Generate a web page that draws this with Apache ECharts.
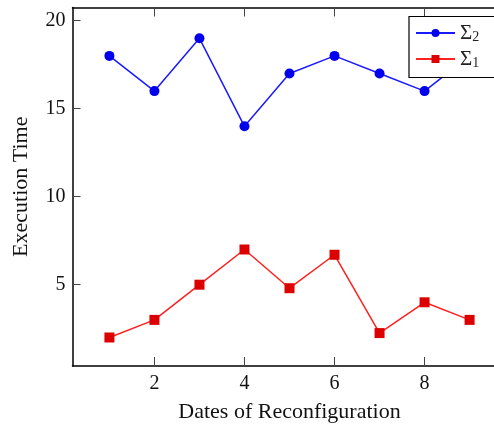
<!DOCTYPE html>
<html><head><meta charset="utf-8">
<script src="https://cdn.jsdelivr.net/npm/echarts@6/dist/echarts.min.js"></script>
<style>html,body{margin:0;padding:0;background:#fff}#c{width:494px;height:424px}</style>
</head><body><div id="c"></div>
<script>
const xValues = [1, 2, 3, 4, 5, 6, 7, 8, 9];
const sigma2 = [18, 16, 19, 14, 17, 18, 17, 16, 18];
const sigma1 = [2, 3, 5, 7, 4.8, 6.7, 2.25, 4, 3];
const xTicks = [2, 4, 6, 8];
const yTicks = [5, 10, 15, 20];
const xName = 'Dates of Reconfiguration';
const yName = 'Execution Time';

const font = 'Liberation Serif';
const chart = echarts.init(document.getElementById('c'), null, {renderer: 'canvas'});
const pair = (xs, ys) => xs.map((x, i) => [x, ys[i]]);
const axisLine = {show: true, lineStyle: {color: '#000', width: 1.5}};
const tick = (vals, len) => ({show: true, inside: true, length: len, customValues: vals, lineStyle: {color: '#444', width: 1}});
chart.setOption({
  animation: false,
  grid: {left: 72.5, top: 7.5, width: 434, bottom: 58, containLabel: false, outerBoundsMode: 'none'},
  legend: {
    left: 409, top: 16.5, orient: 'vertical', itemGap: 4,
    padding: [6, 30, 7, 6],
    borderColor: '#000', borderWidth: 1.2, backgroundColor: '#fff',
    itemWidth: 39, itemHeight: 10,
    data: ['s2', 's1'],
    formatter: n => n === 's2' ? '{a|Σ}{b|2}' : '{a|Σ}{b|1}',
    textStyle: {fontFamily: font, color: '#222', rich: {
      a: {fontFamily: font, fontSize: 21, lineHeight: 22, color: '#222'},
      b: {fontFamily: font, fontSize: 14, color: '#222', verticalAlign: 'bottom', padding: [9, 0, 0, 0]}
    }}
  },
  xAxis: [{
    type: 'value', min: 0.18, max: 9.82, position: 'bottom',
    name: xName, nameLocation: 'middle', nameGap: 35,
    nameTextStyle: {fontFamily: font, fontSize: 22, color: '#111'},
    axisLine, splitLine: {show: false}, axisTick: tick(xTicks, 9),
    axisLabel: {customValues: xTicks, fontFamily: font, fontSize: 20, color: '#111', margin: 8}
  }, {
    type: 'value', min: 0.18, max: 9.82, position: 'top',
    axisLine, splitLine: {show: false}, axisTick: tick(xTicks, 9), axisLabel: {show: false}
  }],
  yAxis: [{
    type: 'value', min: 0.38, max: 20.75, position: 'left',
    name: yName, nameLocation: 'middle', nameGap: 40,
    nameTextStyle: {fontFamily: font, fontSize: 22, color: '#111'},
    axisLine, splitLine: {show: false}, axisTick: tick(yTicks, 8),
    axisLabel: {customValues: yTicks, fontFamily: font, fontSize: 20, color: '#111', margin: 7}
  }, {
    type: 'value', min: 0.38, max: 20.75, position: 'right',
    axisLine, splitLine: {show: false}, axisTick: tick(yTicks, 8), axisLabel: {show: false}
  }],
  series: [{
    name: 's2', type: 'line', data: pair(xValues, sigma2),
    symbol: 'circle', symbolSize: 10,
    lineStyle: {color: '#1a1aff', width: 1.5},
    itemStyle: {color: '#0000ee'}, z: 2
  }, {
    name: 's1', type: 'line', data: pair(xValues, sigma1),
    symbol: 'rect', symbolSize: 10,
    lineStyle: {color: '#ff2020', width: 1.5},
    itemStyle: {color: '#dd0000'}, z: 2
  }]
});
</script></body></html>
